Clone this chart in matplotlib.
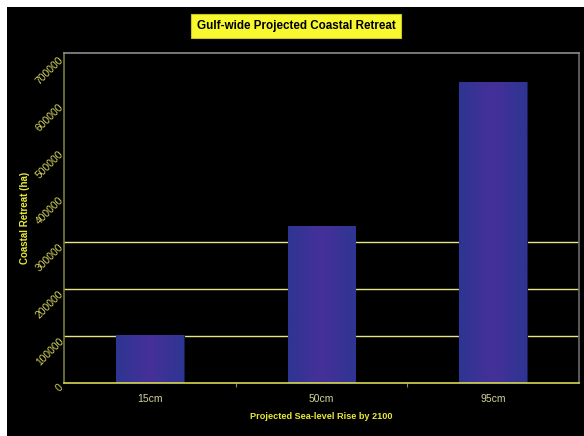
import numpy as np
import matplotlib
matplotlib.use("Agg")
import matplotlib.pyplot as plt
import matplotlib.patches as patches
from matplotlib.colors import LinearSegmentedColormap

# data
categories = ["15cm", "50cm", "95cm"]
retreat_ha = [101000, 335500, 642500]
y_ticks = [0, 100000, 200000, 300000, 400000, 500000, 600000, 700000]
grid_levels = [100000, 200000, 300000]

title = "Gulf-wide Projected Coastal Retreat"
x_label = "Projected Sea-level Rise by 2100"
y_label = "Coastal Retreat (ha)"

plt.rcParams["font.family"] = ["Liberation Sans", "DejaVu Sans"]

W, H = 584, 436
fig = plt.figure(figsize=(W / 100, H / 100), dpi=100, facecolor="white")

# black panel (white strip on left and top like the reference)
fig.patches.append(patches.Rectangle((7 / W, 0), 1 - 7 / W, 1 - 7 / H,
                                     transform=fig.transFigure,
                                     facecolor="black", edgecolor="none", zorder=-10))

ax = fig.add_axes([64 / W, 1 - 382.7 / H, (579 - 64) / W, (382.7 - 52.7) / H])
ax.set_facecolor("black")

x = np.arange(len(categories))

for g in grid_levels:
    ax.axhline(g, color="#e6e68c", lw=1.0, zorder=1)

# bars with a horizontal blue-purple-blue shading
cmap = LinearSegmentedColormap.from_list("bar", ["#2e3592", "#46309a", "#2e3592"])
grad = np.linspace(0, 1, 64).reshape(1, -1)
bars = ax.bar(x, retreat_ha, width=0.395, color="#3a3296", edgecolor="#1a1a50",
              linewidth=0.8, zorder=3)
for b in bars:
    im = ax.imshow(grad, cmap=cmap, aspect="auto", zorder=3.5,
                   extent=(b.get_x(), b.get_x() + b.get_width(), 0, b.get_height()))
    im.set_clip_path(b)
ax.set_xlim(-0.5, len(categories) - 0.5)
ax.set_ylim(0, 705000)

# spines
ax.spines["left"].set_color("#7a7a3a")
ax.spines["bottom"].set_color("#d8d850")
ax.spines["top"].set_color("#8c8c8c")
ax.spines["right"].set_color("#6a6a6a")
for s in ax.spines.values():
    s.set_linewidth(1.2)
    s.set_zorder(5)

# x ticks: marks between categories, labels centred
ax.set_xticks(x[:-1] + 0.5)
ax.set_xticklabels([])
ax.set_xticks(x, minor=True)
ax.set_xticklabels(categories, minor=True, color="#d2d29a", fontsize=7.5)
ax.tick_params(axis="x", which="major", length=3, color="#8c8c5a", direction="out")
ax.tick_params(axis="x", which="minor", length=0, pad=8)

ax.set_yticks(y_ticks)
ax.set_yticklabels([str(v) for v in y_ticks], rotation=45, color="#d6d660",
                   fontsize=7.4, ha="right", va="top", rotation_mode="anchor")
ax.tick_params(axis="y", length=0, pad=4)

ax.set_xlabel(x_label, color="#e8e838", fontsize=6.6, fontweight="bold", labelpad=6)
ax.set_ylabel(y_label, color="#e8e838", fontsize=7, fontweight="bold", labelpad=3)

fig.text(296 / W, 1 - 26 / H, title, ha="center", va="center", fontsize=8.4,
         fontweight="bold", color="black",
         bbox=dict(boxstyle="square,pad=0.5", facecolor="#f8f830", edgecolor="#c8c820", lw=0.8))

fig.savefig("out.png", dpi=100, facecolor=fig.get_facecolor())
